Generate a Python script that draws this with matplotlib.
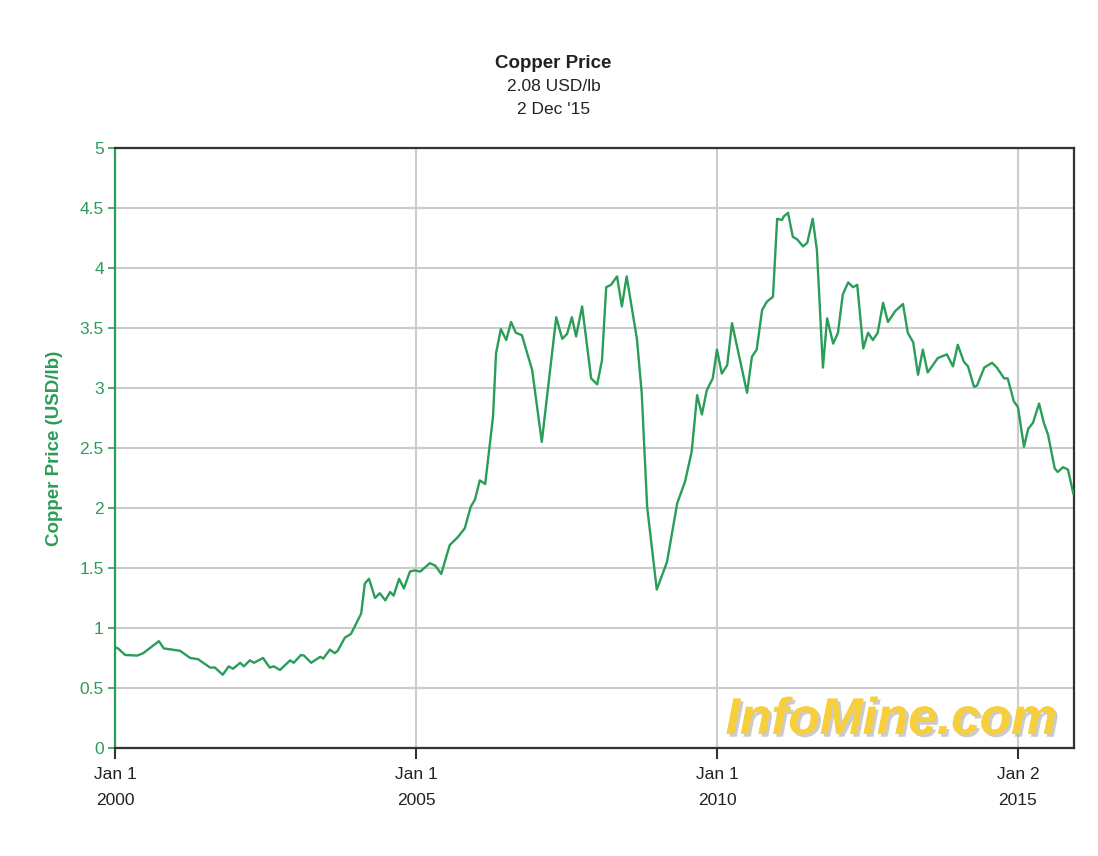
import matplotlib.pyplot as plt
import matplotlib.patheffects as pe

# decimal years and copper price (USD/lb)
years = [2000.00, 2000.05, 2000.17, 2000.37, 2000.47, 2000.73, 2000.81, 2001.08, 2001.25, 2001.38,
         2001.58, 2001.66, 2001.79, 2001.89, 2001.96, 2002.08, 2002.14, 2002.24, 2002.31, 2002.46,
         2002.57, 2002.64, 2002.74, 2002.91, 2002.97, 2003.09, 2003.14, 2003.26, 2003.41, 2003.46,
         2003.57, 2003.65, 2003.70, 2003.82, 2003.92, 2004.02, 2004.09, 2004.15, 2004.22, 2004.32,
         2004.40, 2004.49, 2004.57, 2004.63, 2004.72, 2004.80, 2004.90, 2004.98, 2005.07, 2005.23,
         2005.32, 2005.42, 2005.56, 2005.70, 2005.81, 2005.91, 2005.98, 2006.06, 2006.15, 2006.21,
         2006.28, 2006.33, 2006.41, 2006.50, 2006.58, 2006.66, 2006.76, 2006.93, 2007.09, 2007.33,
         2007.43, 2007.51, 2007.59, 2007.66, 2007.76, 2007.91, 2008.01, 2008.09, 2008.16, 2008.24,
         2008.34, 2008.42, 2008.50, 2008.67, 2008.75, 2008.84, 2009.00, 2009.17, 2009.34, 2009.47,
         2009.58, 2009.67, 2009.75, 2009.83, 2009.93, 2010.00, 2010.08, 2010.17, 2010.25, 2010.50,
         2010.58, 2010.66, 2010.75, 2010.83, 2010.93, 2011.00, 2011.08, 2011.11, 2011.18, 2011.26,
         2011.33, 2011.43, 2011.50, 2011.59, 2011.66, 2011.76, 2011.83, 2011.93, 2012.01, 2012.09,
         2012.18, 2012.26, 2012.33, 2012.43, 2012.51, 2012.59, 2012.67, 2012.76, 2012.84, 2012.96,
         2013.09, 2013.17, 2013.26, 2013.34, 2013.42, 2013.50, 2013.67, 2013.82, 2013.92, 2014.00,
         2014.10, 2014.17, 2014.27, 2014.32, 2014.44, 2014.57, 2014.65, 2014.77, 2014.83, 2014.93,
         2015.00, 2015.10, 2015.17, 2015.25, 2015.35, 2015.43, 2015.50, 2015.61, 2015.66, 2015.75,
         2015.83, 2015.92]
prices = [0.84, 0.83, 0.775, 0.77, 0.79, 0.89, 0.83, 0.81, 0.75, 0.74,
          0.67, 0.67, 0.61, 0.68, 0.66, 0.71, 0.68, 0.73, 0.71, 0.75,
          0.67, 0.68, 0.65, 0.73, 0.71, 0.775, 0.77, 0.71, 0.76, 0.745,
          0.82, 0.79, 0.81, 0.92, 0.95, 1.05, 1.12, 1.37, 1.41, 1.25,
          1.29, 1.23, 1.30, 1.27, 1.41, 1.33, 1.47, 1.48, 1.47, 1.54,
          1.52, 1.45, 1.69, 1.76, 1.83, 2.01, 2.07, 2.23, 2.20, 2.46,
          2.76, 3.29, 3.49, 3.40, 3.55, 3.46, 3.44, 3.15, 2.55, 3.59,
          3.41, 3.45, 3.59, 3.43, 3.68, 3.08, 3.03, 3.23, 3.84, 3.86,
          3.93, 3.68, 3.93, 3.41, 2.96, 2.01, 1.32, 1.55, 2.04, 2.22,
          2.47, 2.94, 2.78, 2.98, 3.08, 3.32, 3.12, 3.19, 3.54, 2.96,
          3.26, 3.32, 3.65, 3.72, 3.76, 4.41, 4.40, 4.43, 4.46, 4.26,
          4.24, 4.18, 4.21, 4.41, 4.15, 3.17, 3.58, 3.37, 3.46, 3.78,
          3.88, 3.84, 3.86, 3.33, 3.46, 3.40, 3.46, 3.71, 3.55, 3.64,
          3.70, 3.46, 3.38, 3.11, 3.32, 3.13, 3.25, 3.28, 3.18, 3.36,
          3.22, 3.18, 3.01, 3.02, 3.17, 3.21, 3.17, 3.08, 3.08, 2.89,
          2.84, 2.51, 2.66, 2.71, 2.87, 2.71, 2.61, 2.33, 2.30, 2.34,
          2.32, 2.12]

tick_years = [2000, 2005, 2010, 2015]
tick_labels = ['Jan 1\n2000', 'Jan 1\n2005', 'Jan 1\n2010', 'Jan 2\n2015']
y_ticks = [0, 0.5, 1, 1.5, 2, 2.5, 3, 3.5, 4, 4.5, 5]

green = '#2a9d58'
plt.rcParams['font.family'] = ['Liberation Sans', 'DejaVu Sans']

fig = plt.figure(figsize=(10.98, 8.56), dpi=100)
ax = fig.add_axes([0.1047, 0.1262, 0.8734, 0.7009])

ax.plot(years, prices, color=green, linewidth=1.7, zorder=3)

ax.set_xlim(2000, 2015.93)
ax.set_ylim(0, 5)
ax.set_xticks(tick_years)
ax.set_xticklabels(tick_labels, fontsize=12.5, color='#222222', linespacing=1.9)
ax.set_yticks(y_ticks)
ax.set_yticklabels(['0', '0.5', '1', '1.5', '2', '2.5', '3', '3.5', '4', '4.5', '5'],
                   fontsize=12.5, color=green)
ax.grid(True, color='#cccccc', linewidth=1.5, zorder=0)
ax.tick_params(axis='y', colors=green, length=5, width=1.2, labelcolor=green, pad=3)
ax.tick_params(axis='x', colors='#333333', length=8, width=1.5, pad=6, labelcolor='#222222')

for side in ['top', 'right', 'bottom']:
    ax.spines[side].set_color('#333333')
    ax.spines[side].set_linewidth(1.6)
ax.spines['left'].set_color(green)
ax.spines['left'].set_linewidth(1.6)

ax.set_ylabel('Copper Price (USD/lb)', fontsize=13.5, fontweight='bold', color=green, labelpad=12)

fig.text(0.504, 0.926, 'Copper Price', ha='center', va='center', fontsize=13.5, fontweight='bold', color='#222222')
fig.text(0.504, 0.899, '2.08 USD/lb', ha='center', va='center', fontsize=12.5, color='#222222')
fig.text(0.504, 0.872, "2 Dec '15", ha='center', va='center', fontsize=12.5, color='#222222')

ax.text(0.982, 0.005, 'InfoMine.com', transform=ax.transAxes, ha='right', va='bottom',
        fontsize=37, fontweight='bold', fontstyle='italic', color='#f7cf3c', zorder=2,
        path_effects=[pe.withSimplePatchShadow(offset=(2, -2), shadow_rgbFace='#999999', alpha=0.5),
                      pe.Normal()])

fig.savefig('out.png', dpi=100)
